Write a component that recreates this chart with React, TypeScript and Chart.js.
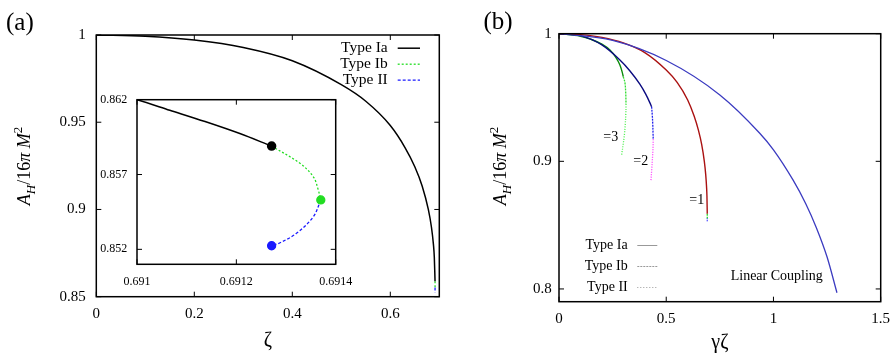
import React, { useEffect, useRef } from 'react';
import { Chart, registerables } from 'chart.js';

Chart.register(...registerables);

const SERIF = "'Liberation Serif', 'Times New Roman', serif";

// ---------------- Panel (a) data ----------------
const A_X_TICKS = [0, 0.2, 0.4, 0.6];
const A_Y_TICKS = [0.85, 0.9, 0.95, 1];
const INSET_X_TICKS = [0.691, 0.6912, 0.6914];
const INSET_Y_TICKS = [0.852, 0.857, 0.862];
const TYPE_LABELS = ['Type Ia', 'Type Ib', 'Type II'];

const ZETA_IA = [0, 0.1, 0.2, 0.3, 0.4, 0.5, 0.55, 0.6, 0.63, 0.65, 0.665, 0.6776, 0.684, 0.688, 0.6898, 0.691, 0.691066, 0.691137, 0.691207, 0.691271];
const AREA_IA = [1, 0.9993, 0.9971, 0.9928, 0.9852, 0.9715, 0.962, 0.9481, 0.9355, 0.9245, 0.9135, 0.9, 0.8898, 0.88, 0.8728, 0.862, 0.861297, 0.86054, 0.859736, 0.8589];
const ZETA_IB = [0.691271, 0.691328, 0.691355, 0.691365, 0.69137];
const AREA_IB = [0.8589, 0.85775, 0.85685, 0.85596, 0.8553];
const ZETA_II = [0.69137, 0.691355, 0.691321, 0.691288, 0.691271];
const AREA_II = [0.8553, 0.85418, 0.85307, 0.85244, 0.85224];

// ---------------- Panel (b) data ----------------
const B_X_TICKS = [0, 0.5, 1, 1.5];
const B_Y_TICKS = [0.8, 0.9, 1];
const LINEAR_LABEL = 'Linear Coupling';
const BRANCH_LABELS = ['=1', '=2', '=3'];

const LIN_X = [0, 0.25, 0.5, 0.75, 0.936, 1.0, 1.091, 1.15, 1.2, 1.25, 1.296];
const LIN_Y = [1, 0.9947, 0.979, 0.952, 0.922, 0.909, 0.8854, 0.867, 0.848, 0.825, 0.797];

const A2_IA_X = [0, 0.1, 0.2, 0.284, 0.33, 0.377, 0.405, 0.424, 0.4318];
const A2_IA_Y = [1, 0.9985, 0.9912, 0.9794, 0.971, 0.9605, 0.9525, 0.9458, 0.9428];
const A2_IB_X = [0.4318, 0.435, 0.4372, 0.4385, 0.4393];
const A2_IB_Y = [0.9428, 0.936, 0.929, 0.922, 0.9173];
const A2_II_X = [0.4393, 0.4385, 0.4362, 0.4325, 0.4285];
const A2_II_Y = [0.9173, 0.911, 0.9037, 0.894, 0.8841];

const A3_IA_X = [0, 0.1, 0.15, 0.2, 0.2375, 0.265, 0.284, 0.295, 0.2996];
const A3_IA_Y = [1, 0.998, 0.9955, 0.9918, 0.9872, 0.9815, 0.9755, 0.9697, 0.9663];
const A3_IB_X = [0.2996, 0.3074, 0.311, 0.3125];
const A3_IB_Y = [0.9663, 0.9617, 0.954, 0.945];
const A3_II_X = [0.3125, 0.3115, 0.309, 0.305, 0.299, 0.292];
const A3_II_Y = [0.945, 0.937, 0.929, 0.921, 0.913, 0.905];

// ---------------- helpers ----------------
type Pt = { x: number; y: number };
const pts = (xs: number[], ys: number[]): Pt[] => xs.map((x, i) => ({ x, y: ys[i] }));

function series(label: string, xs: number[], ys: number[], color: string, width: number, dash: number[], extra: any = {}) {
  return {
    label,
    data: pts(xs, ys),
    borderColor: color,
    backgroundColor: color,
    borderWidth: width,
    borderDash: dash,
    pointRadius: 0,
    pointHoverRadius: 0,
    fill: false,
    tension: 0.35,
    ...extra,
  };
}

function axis(min: number, max: number, ticks: number[], size: number, horizontal: boolean, fontSize: number, pad: number, title?: { text: string; size: number; pad: number }) {
  return {
    type: 'linear',
    min,
    max,
    grid: { display: false, drawTicks: false },
    border: { display: false },
    ticks: {
      font: { family: SERIF, size: fontSize },
      color: '#000',
      padding: pad,
      autoSkip: false,
      maxRotation: 0,
      minRotation: 0,
      callback: (v: any) => String(v),
    },
    afterBuildTicks: (s: any) => {
      s.ticks = ticks.map((value) => ({ value }));
    },
    afterFit: (s: any) => {
      if (horizontal) s.height = size;
      else s.width = size;
      s.paddingTop = 0;
      s.paddingBottom = 0;
      s.paddingLeft = 0;
      s.paddingRight = 0;
    },
    title: title
      ? { display: true, text: title.text, color: '#000', font: { family: SERIF, size: title.size }, padding: { top: 0, bottom: title.pad } }
      : { display: false },
  };
}

function makeFrame(tickLen: number, lineWidth: number) {
  return {
    id: 'frame',
    afterDraw(chart: any) {
      const { ctx, chartArea: a, scales } = chart;
      ctx.save();
      ctx.strokeStyle = '#000';
      ctx.lineWidth = 1;
      ctx.beginPath();
      scales.x.ticks.forEach((t: any) => {
        const px = scales.x.getPixelForValue(t.value);
        ctx.moveTo(px, a.bottom);
        ctx.lineTo(px, a.bottom - tickLen);
        ctx.moveTo(px, a.top);
        ctx.lineTo(px, a.top + tickLen);
      });
      scales.y.ticks.forEach((t: any) => {
        const py = scales.y.getPixelForValue(t.value);
        ctx.moveTo(a.left, py);
        ctx.lineTo(a.left + tickLen, py);
        ctx.moveTo(a.right, py);
        ctx.lineTo(a.right - tickLen, py);
      });
      ctx.stroke();
      ctx.lineWidth = lineWidth;
      ctx.strokeRect(a.left, a.top, a.right - a.left, a.bottom - a.top);
      ctx.restore();
    },
  };
}

type TextItem = { text: string; x: number; y: number; size: number; align?: CanvasTextAlign };
function makeTexts(items: TextItem[]) {
  return {
    id: 'texts',
    afterDraw(chart: any) {
      const ctx = chart.ctx;
      ctx.save();
      ctx.fillStyle = '#000';
      ctx.textBaseline = 'middle';
      items.forEach((it) => {
        ctx.font = `${it.size}px ${SERIF}`;
        ctx.textAlign = it.align || 'left';
        ctx.fillText(it.text, it.x, it.y);
      });
      ctx.restore();
    },
  };
}

type LegendItem = { label: string; color: string; dash: number[]; width: number };
function makeLegend(items: () => LegendItem[], textRight: number, x0: number, x1: number, y0: number, dy: number, size: number) {
  return {
    id: 'customLegend',
    afterDraw(chart: any) {
      const ctx = chart.ctx;
      ctx.save();
      ctx.textBaseline = 'middle';
      ctx.textAlign = 'right';
      ctx.font = `${size}px ${SERIF}`;
      items().forEach((it, i) => {
        const y = y0 + i * dy;
        ctx.fillStyle = '#000';
        ctx.fillText(it.label, textRight, y);
        ctx.strokeStyle = it.color;
        ctx.lineWidth = it.width;
        ctx.setLineDash(it.dash);
        ctx.beginPath();
        ctx.moveTo(x0, y + 0.5);
        ctx.lineTo(x1, y + 0.5);
        ctx.stroke();
        ctx.setLineDash([]);
      });
      ctx.restore();
    },
  };
}

function makeYLabel(cx: number, cy: number, size: number) {
  const runs: [string, boolean, number, number][] = [
    ['A', true, 1, 0],
    ['H', true, 0.72, 0.25],
    ['/16', false, 1, 0],
    ['\u03C0', true, 1, 0],
    [' ', false, 1, 0],
    ['M', true, 1, 0],
    ['2', false, 0.72, -0.42],
  ];
  return {
    id: 'yLabel',
    afterDraw(chart: any) {
      const ctx = chart.ctx;
      ctx.save();
      ctx.translate(cx, cy);
      ctx.rotate(-Math.PI / 2);
      ctx.fillStyle = '#000';
      ctx.textBaseline = 'alphabetic';
      ctx.textAlign = 'left';
      const fontOf = (r: [string, boolean, number, number]) => `${r[1] ? 'italic ' : ''}${size * r[2]}px ${SERIF}`;
      let total = 0;
      runs.forEach((r) => {
        ctx.font = fontOf(r);
        total += ctx.measureText(r[0]).width;
      });
      let x = -total / 2;
      runs.forEach((r) => {
        ctx.font = fontOf(r);
        ctx.fillText(r[0], x, r[3] * size);
        x += ctx.measureText(r[0]).width;
      });
      ctx.restore();
    },
  };
}

const noPlugins = { legend: { display: false }, tooltip: { enabled: false } };

// ---------------- chart configs ----------------
function leftConfig(): any {
  const datasets = [
    series(TYPE_LABELS[0], ZETA_IA, AREA_IA, '#000000', 1.5, [], { cubicInterpolationMode: 'monotone' }),
    series(TYPE_LABELS[1], ZETA_IB, AREA_IB, '#22dd22', 1.3, [2, 2]),
    series(TYPE_LABELS[2], ZETA_II, AREA_II, '#1a1aff', 1.3, [3, 2]),
  ];
  return {
    type: 'line',
    data: { datasets },
    options: {
      responsive: false,
      maintainAspectRatio: false,
      animation: false,
      events: [],
      layout: { padding: { left: 0, top: 35, right: 7.7, bottom: 0 } },
      scales: {
        x: axis(0, 0.7, A_X_TICKS, 59.3, true, 15, 8, { text: '\u03B6', size: 20, pad: 3 }),
        y: axis(0.85, 1, A_Y_TICKS, 96.3, false, 15, 10.5),
      },
      plugins: noPlugins,
    },
    plugins: [
      makeFrame(5, 1.5),
      makeTexts([{ text: '(a)', x: 6, y: 23, size: 25 }]),
      makeLegend(
        () => datasets.map((d) => ({ label: d.label, color: d.borderColor, dash: d.borderDash, width: d.borderWidth })),
        387.7, 397.7, 420, 47.7, 16, 15.5,
      ),
      makeYLabel(30, 166, 18),
    ],
  };
}

function insetConfig(): any {
  const dot = (n: number) => (c: any) => (c.dataIndex === n - 1 ? 4 : 0);
  const datasets = [
    series(TYPE_LABELS[0], ZETA_IA, AREA_IA, '#000000', 1.5, [], { cubicInterpolationMode: 'monotone', pointRadius: dot(ZETA_IA.length) }),
    series(TYPE_LABELS[1], ZETA_IB, AREA_IB, '#22dd22', 1.3, [2, 2], { pointRadius: dot(ZETA_IB.length) }),
    series(TYPE_LABELS[2], ZETA_II, AREA_II, '#1a1aff', 1.3, [3, 2], { pointRadius: dot(ZETA_II.length) }),
  ];
  return {
    type: 'line',
    data: { datasets },
    options: {
      responsive: false,
      maintainAspectRatio: false,
      animation: false,
      events: [],
      layout: { padding: { left: 0, top: 11.7, right: 21.3, bottom: 0 } },
      scales: {
        x: axis(0.691, 0.6914, INSET_X_TICKS, 33.7, true, 12, 10),
        y: axis(0.851, 0.862, INSET_Y_TICKS, 50, false, 12, 9.7),
      },
      plugins: noPlugins,
    },
    plugins: [makeFrame(5, 1.5)],
  };
}

function rightConfig(): any {
  const datasets = [
    series('Linear Coupling', LIN_X, LIN_Y, '#3b3bc0', 1.3, [], { cubicInterpolationMode: 'monotone' }),
    series('=1 Type Ia', ZETA_IA, AREA_IA, '#aa1111', 1.4, [], { cubicInterpolationMode: 'monotone' }),
    series('=1 Type Ib', ZETA_IB, AREA_IB, '#22dd22', 1.3, [2, 1]),
    series('=1 Type II', ZETA_II, AREA_II, '#2222ff', 1.3, [1, 1]),
    series('=2 Type Ia', A2_IA_X, A2_IA_Y, '#0b0b80', 1.4, [], { cubicInterpolationMode: 'monotone' }),
    series('=2 Type Ib', A2_IB_X, A2_IB_Y, '#2222ee', 1.3, [2, 1]),
    series('=2 Type II', A2_II_X, A2_II_Y, '#ff33ff', 1.3, [1, 1.5]),
    series('=3 Type Ia', A3_IA_X, A3_IA_Y, '#0a8a0a', 1.4, [], { cubicInterpolationMode: 'monotone' }),
    series('=3 Type Ib', A3_IB_X, A3_IB_Y, '#33dd33', 1.3, [2, 1]),
    series('=3 Type II', A3_II_X, A3_II_Y, '#44ee44', 1.3, [1, 1.5]),
  ];
  return {
    type: 'line',
    data: { datasets },
    options: {
      responsive: false,
      maintainAspectRatio: false,
      animation: false,
      events: [],
      layout: { padding: { left: 0, top: 33.7, right: 13.3, bottom: 0 } },
      scales: {
        x: axis(0, 1.5, B_X_TICKS, 54.3, true, 15, 8, { text: '\u03B3\u03B6', size: 20, pad: 1 }),
        y: axis(0.79, 1, B_Y_TICKS, 112, false, 15, 7.3),
      },
      plugins: noPlugins,
    },
    plugins: [
      makeFrame(5, 1.5),
      makeTexts([
        { text: '(b)', x: 36.5, y: 22, size: 25 },
        { text: BRANCH_LABELS[2], x: 156.3, y: 137, size: 14 },
        { text: BRANCH_LABELS[1], x: 186.3, y: 161.7, size: 14 },
        { text: BRANCH_LABELS[0], x: 242.3, y: 200, size: 14 },
        { text: LINEAR_LABEL, x: 283.7, y: 276.7, size: 14 },
      ]),
      makeLegend(
        () => [
          { label: TYPE_LABELS[0], color: '#999999', dash: [], width: 1 },
          { label: TYPE_LABELS[1], color: '#999999', dash: [2, 1], width: 1 },
          { label: TYPE_LABELS[2], color: '#999999', dash: [1, 2], width: 1 },
        ],
        180.7, 190.3, 210.3, 245, 21, 14,
      ),
      makeYLabel(59, 166, 18),
    ],
  };
}

function ChartCanvas({ left, top, width, height, make }: { left: number; top: number; width: number; height: number; make: () => any }) {
  const ref = useRef<HTMLCanvasElement>(null);
  useEffect(() => {
    const chart = new Chart(ref.current as HTMLCanvasElement, make());
    return () => chart.destroy();
  }, []);
  return <canvas ref={ref} width={width} height={height} style={{ position: 'absolute', left, top, width, height }} />;
}

export default function App() {
  return (
    <div style={{ position: 'fixed', left: 0, top: 0, width: 894, height: 356, background: '#fff', overflow: 'hidden' }}>
      <ChartCanvas left={0} top={0} width={447} height={356} make={leftConfig} />
      <ChartCanvas left={87} top={88} width={270} height={210} make={insetConfig} />
      <ChartCanvas left={447} top={0} width={447} height={356} make={rightConfig} />
    </div>
  );
}
